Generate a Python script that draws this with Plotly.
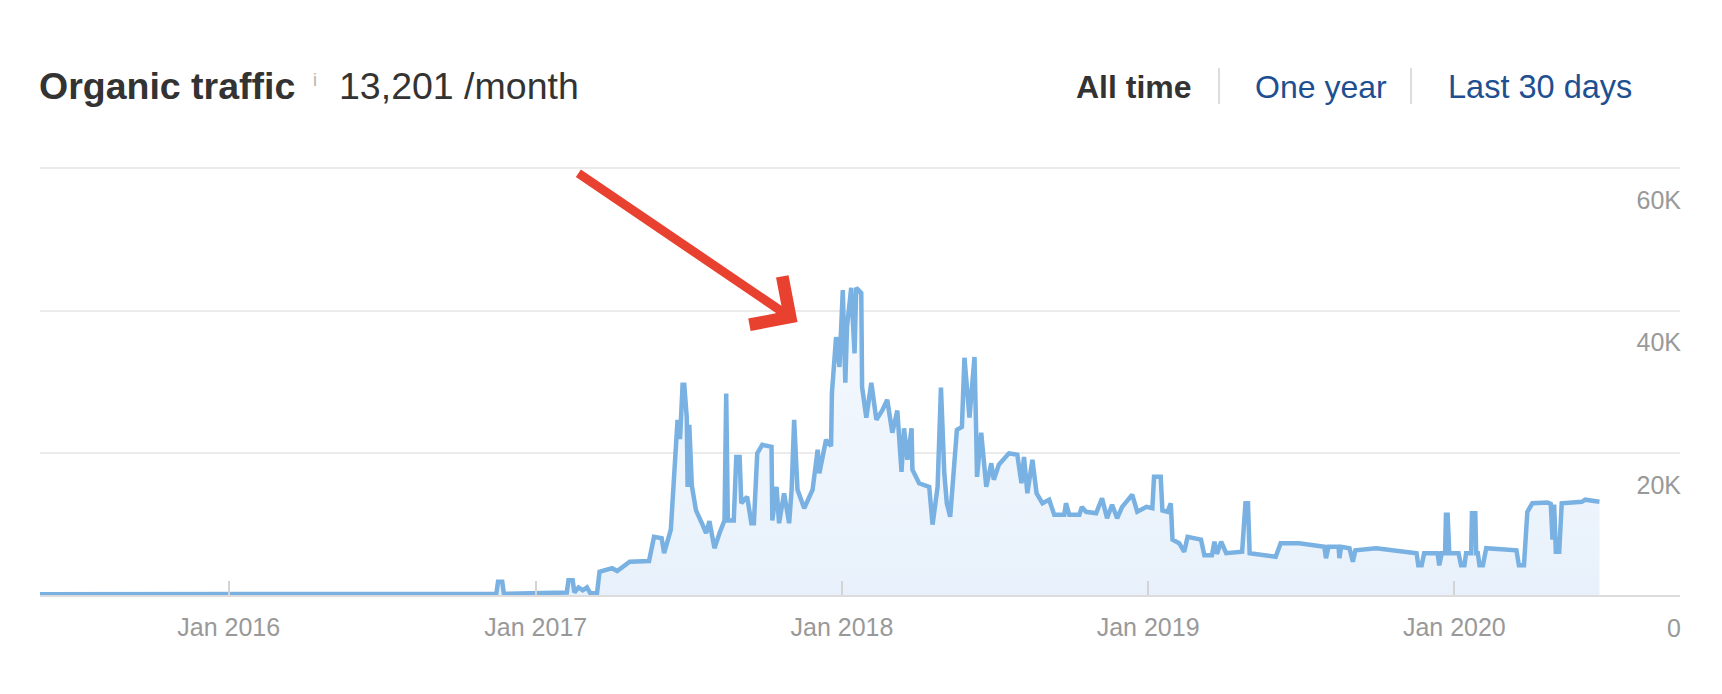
import plotly.graph_objects as go

LINE_COLOR = '#79b1e2'
ARROW_COLOR = '#e8412f'
GRID_COLOR = '#ebebeb'
AXIS_COLOR = '#dcdcdc'
TICK_FONT_COLOR = '#999999'
DARK_TEXT = '#333333'
LINK_COLOR = '#1e5091'
FONT = 'Liberation Sans, Arial, sans-serif'

# organic traffic per month
dates = [
    '2015-05-21', '2015-09-01', '2016-01-15', '2016-06-01', '2016-11-15', '2016-11-17',
    '2016-11-22', '2016-11-24', '2016-12-20', '2017-01-10', '2017-02-07', '2017-02-09',
    '2017-02-14', '2017-02-16', '2017-02-21', '2017-02-26', '2017-03-03', '2017-03-07',
    '2017-03-15', '2017-03-18', '2017-04-02', '2017-04-08', '2017-04-23', '2017-05-16',
    '2017-05-22', '2017-05-31', '2017-06-03', '2017-06-11', '2017-06-15', '2017-06-19',
    '2017-06-22', '2017-06-25', '2017-06-27', '2017-06-30', '2017-07-01', '2017-07-03',
    '2017-07-06', '2017-07-11', '2017-07-18', '2017-07-23', '2017-07-27', '2017-08-02',
    '2017-08-08', '2017-08-14', '2017-08-16', '2017-08-18', '2017-08-25', '2017-08-28',
    '2017-09-01', '2017-09-03', '2017-09-10', '2017-09-15', '2017-09-18', '2017-09-22',
    '2017-09-28', '2017-10-09', '2017-10-10', '2017-10-15', '2017-10-18', '2017-10-24',
    '2017-10-30', '2017-11-02', '2017-11-05', '2017-11-09', '2017-11-17', '2017-11-27',
    '2017-12-03', '2017-12-05', '2017-12-13', '2017-12-19', '2017-12-20', '2017-12-25',
    '2017-12-29', '2018-01-02', '2018-01-05', '2018-01-07', '2018-01-12', '2018-01-16',
    '2018-01-18', '2018-01-24', '2018-01-25', '2018-01-30', '2018-02-05', '2018-02-11',
    '2018-02-18', '2018-02-24', '2018-03-02', '2018-03-08', '2018-03-13', '2018-03-16',
    '2018-03-20', '2018-03-25', '2018-03-26', '2018-04-03', '2018-04-15', '2018-04-19',
    '2018-04-25', '2018-04-29', '2018-05-03', '2018-05-06', '2018-05-10', '2018-05-15',
    '2018-05-18', '2018-05-24', '2018-05-27', '2018-06-02', '2018-06-08', '2018-06-10',
    '2018-06-11', '2018-06-16', '2018-06-22', '2018-06-28', '2018-07-01', '2018-07-07',
    '2018-07-19', '2018-07-29', '2018-08-03', '2018-08-06', '2018-08-10', '2018-08-16',
    '2018-08-21', '2018-08-28', '2018-09-05', '2018-09-11', '2018-09-23', '2018-09-25',
    '2018-09-29', '2018-10-11', '2018-10-14', '2018-10-19', '2018-10-31', '2018-11-07',
    '2018-11-13', '2018-11-19', '2018-11-25', '2018-12-01', '2018-12-13', '2018-12-19',
    '2018-12-30', '2019-01-06', '2019-01-08', '2019-01-16', '2019-01-18', '2019-01-24',
    '2019-01-28', '2019-01-30', '2019-02-07', '2019-02-13', '2019-02-17', '2019-03-05',
    '2019-03-09', '2019-03-18', '2019-03-21', '2019-03-24', '2019-03-29', '2019-04-04',
    '2019-04-23', '2019-04-27', '2019-04-30', '2019-05-02', '2019-06-02', '2019-06-08',
    '2019-06-30', '2019-07-30', '2019-08-01', '2019-08-04', '2019-08-16', '2019-08-17',
    '2019-08-19', '2019-08-29', '2019-09-02', '2019-09-05', '2019-09-30', '2019-11-17',
    '2019-11-19', '2019-11-23', '2019-11-26', '2019-12-12', '2019-12-14', '2019-12-17',
    '2019-12-21', '2019-12-22', '2019-12-24', '2019-12-26', '2020-01-06', '2020-01-09',
    '2020-01-13', '2020-01-15', '2020-01-21', '2020-01-22', '2020-01-26', '2020-01-27',
    '2020-01-29', '2020-01-31', '2020-02-04', '2020-02-08', '2020-03-15', '2020-03-18',
    '2020-03-24', '2020-03-28', '2020-04-03', '2020-04-21', '2020-04-25', '2020-04-27',
    '2020-04-29', '2020-05-01', '2020-05-05', '2020-05-08', '2020-06-01', '2020-06-05',
    '2020-06-22',
]
traffic = [
    250, 250, 280, 300, 300, 2000,
    2000, 300, 350, 450, 500, 2200,
    2200, 500, 1200, 800, 1200, 400,
    400, 3400, 3900, 3500, 4800, 4900,
    8300, 8100, 6000, 9300, 16700, 24700,
    22000, 29600, 29600, 25000, 15300, 24000,
    15500, 12000, 10200, 8800, 10500, 6700,
    8800, 10600, 28400, 10600, 10600, 19500,
    19500, 13000, 13900, 10200, 10200, 20000,
    21200, 20900, 10600, 15300, 10200, 14400,
    10200, 14900, 24700, 14900, 12300, 14900,
    20500, 17200, 21900, 21000, 28400, 36300,
    32100, 42900, 29900, 37700, 43200, 34000,
    43200, 42500, 29300, 25000, 29900, 24700,
    26000, 27500, 22900, 26000, 17400, 23500,
    19100, 23500, 17700, 15800, 15300, 10000,
    15300, 29200, 17200, 13000, 11100, 19100,
    23300, 23700, 33400, 25000, 33500, 23000,
    16700, 22900, 15300, 18600, 16300, 18400,
    20000, 19800, 15800, 19500, 14400, 19100,
    14400, 13000, 13500, 11400, 11400, 13000,
    11400, 11400, 12500, 11800, 11600, 13700,
    10900, 12800, 10900, 12500, 14200, 11800,
    12500, 12300, 16700, 16700, 12000, 11800,
    13000, 7900, 7400, 6200, 8300, 7900,
    5700, 5700, 7600, 5900, 7600, 6000,
    6200, 13000, 13000, 6000, 5500, 7400,
    7400, 6900, 5300, 6900, 6900, 5300,
    6900, 6700, 4800, 6400, 6700, 6000,
    4300, 4300, 6000, 6000, 4300, 6000,
    6000, 11400, 11400, 6000, 6000, 4300,
    4300, 6000, 6000, 11600, 11600, 6000,
    6000, 4300, 4300, 6700, 6400, 4300,
    4300, 11800, 13000, 13100, 12900, 7900,
    12800, 6200, 6200, 13000, 13200, 13500,
    13200,
]

x_ticks = ['2016-01-01', '2017-01-01', '2018-01-01', '2019-01-01', '2020-01-01']
x_tick_labels = ['Jan 2016', 'Jan 2017', 'Jan 2018', 'Jan 2019', 'Jan 2020']
y_ticks = [0, 20000, 40000, 60000]
y_tick_labels = ['0', '20K', '40K', '60K']

x_range = ['2015-05-21', '2020-09-26']
# a little room under zero so the "0" label can sit below the baseline
y_range = [-7010, 60420]

# arrow pointing at the peak (tip, tail)
arrow_tip = ('2017-11-09', 38400)
arrow_tail = ('2017-02-19', 59400)

fig = go.Figure()

fig.add_trace(go.Scatter(
    x=dates,
    y=traffic,
    mode='lines',
    line=dict(color=LINE_COLOR, width=4.5),
    fill='tozeroy',
    fillgradient=dict(
        type='vertical',
        colorscale=[[0, '#e8f1fb'], [1, '#f5f9fe']],
    ),
    hoverinfo='x+y',
))

header = [
    dict(text='<b>Organic traffic</b>', x=-0.002, y=1.1642, size=37.5, color=DARK_TEXT),
    dict(text='i', x=0.1655, y=1.1767, size=18, color='#b4b4b4'),
    dict(text='13,201 /month', x=0.1811, y=1.1642, size=37.5, color=DARK_TEXT),
    dict(text='<b>All time</b>', x=0.6305, y=1.1622, size=32, color=DARK_TEXT),
    dict(text='One year', x=0.7395, y=1.1622, size=32, color=LINK_COLOR),
    dict(text='Last 30 days', x=0.8572, y=1.1622, size=32.5, color=LINK_COLOR),
]
annotations = []
for h in header:
    annotations.append(dict(
        text=h['text'], x=h['x'], y=h['y'], xref='paper', yref='paper',
        xanchor='left', yanchor='middle', showarrow=False,
        font=dict(family=FONT, size=h['size'], color=h['color']),
    ))

annotations.append(dict(
    x=arrow_tip[0], y=arrow_tip[1], xref='x', yref='y',
    ax=arrow_tail[0], ay=arrow_tail[1], axref='x', ayref='y',
    text='', showarrow=True,
    arrowhead=4, arrowsize=1.25, arrowwidth=9, arrowcolor=ARROW_COLOR,
))

shapes = []
for sep_x in [0.7189, 0.8360]:
    shapes.append(dict(
        type='line', xref='paper', yref='paper',
        x0=sep_x, x1=sep_x, y0=1.1268, y1=1.2017,
        line=dict(color='#dddddd', width=2),
    ))

# the page puts the figure 8px in from the top-left corner
fig.update_layout(
    width=1722,
    height=694,
    autosize=False,
    showlegend=False,
    plot_bgcolor='white',
    paper_bgcolor='white',
    margin=dict(l=32, r=50, t=157, b=56, autoexpand=False),
    font=dict(family=FONT, size=25, color=TICK_FONT_COLOR),
    annotations=annotations,
    shapes=shapes,
    xaxis=dict(
        type='date',
        range=x_range,
        tickvals=x_ticks,
        ticktext=x_tick_labels,
        ticks='inside',
        ticklen=14,
        tickwidth=2,
        tickcolor='#d4d4d4',
        showline=True,
        linecolor=AXIS_COLOR,
        linewidth=2,
        showgrid=False,
        zeroline=False,
        anchor='free',
        position=-y_range[0] / (y_range[1] - y_range[0]),
        ticklabelstandoff=9,
        automargin=False,
        tickfont=dict(size=25, color=TICK_FONT_COLOR),
    ),
    yaxis=dict(
        range=y_range,
        side='right',
        tickvals=y_ticks,
        ticktext=y_tick_labels,
        ticks='',
        ticklabelposition='inside',
        ticklabelshift=32,
        ticklabelstandoff=-4,
        showgrid=True,
        gridcolor=GRID_COLOR,
        gridwidth=2,
        zeroline=False,
        showline=False,
        automargin=False,
        tickfont=dict(size=25, color=TICK_FONT_COLOR),
    ),
)

fig.write_html('out.html')
